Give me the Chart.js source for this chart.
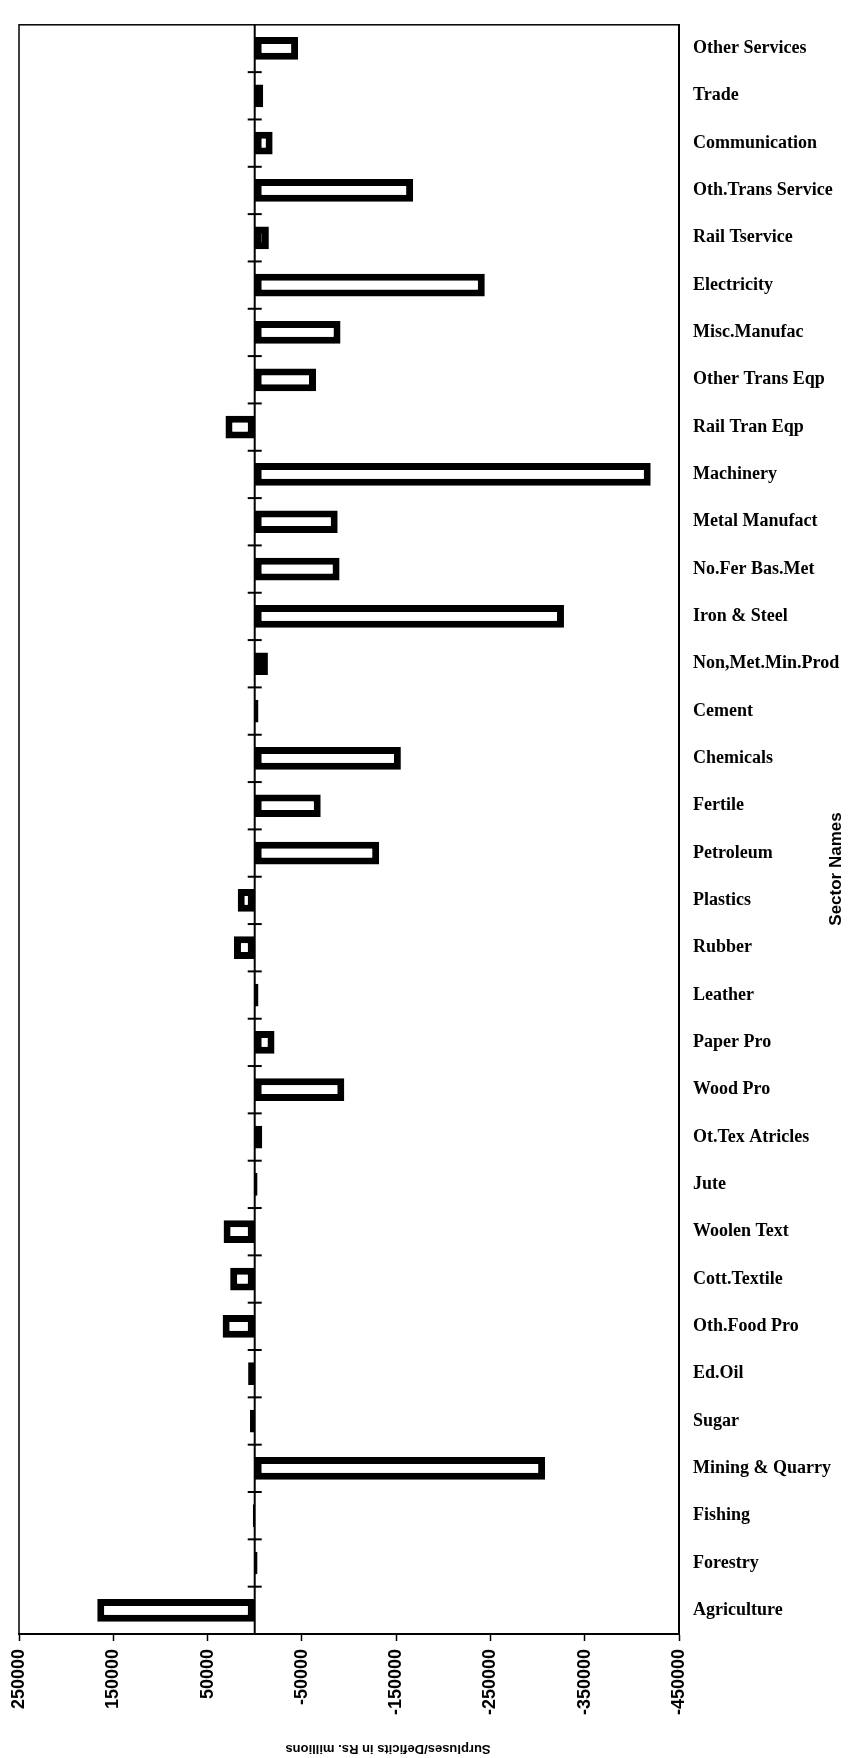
<!DOCTYPE html>
<html>
<head>
<meta charset="utf-8">
<title>Sector Surpluses/Deficits</title>
<script src="https://cdn.jsdelivr.net/npm/chart.js@4.4.1/dist/chart.umd.min.js"></script>
<style>
    html, body { margin: 0; padding: 0; background: #fff; }
    #sectorChart { display: block; }
</style>
</head>
<body>
<canvas id="sectorChart" width="851" height="1758"></canvas>
<script>
// Sector names, top to bottom as in the figure
const sectors = [
    'Other Services', 'Trade', 'Communication', 'Oth.Trans Service', 'Rail Tservice',
    'Electricity', 'Misc.Manufac', 'Other Trans Eqp', 'Rail Tran Eqp', 'Machinery',
    'Metal Manufact', 'No.Fer Bas.Met', 'Iron & Steel', 'Non,Met.Min.Prod', 'Cement',
    'Chemicals', 'Fertile', 'Petroleum', 'Plastics', 'Rubber',
    'Leather', 'Paper Pro', 'Wood Pro', 'Ot.Tex Atricles', 'Jute',
    'Woolen Text', 'Cott.Textile', 'Oth.Food Pro', 'Ed.Oil', 'Sugar',
    'Mining & Quarry', 'Fishing', 'Forestry', 'Agriculture'
];

// Surplus (+) / deficit (-) in Rs. millions
const surplusDeficit = [
    -46000, -9000, -19000, -168000, -15000,
    -244000, -91000, -65000, 31000, -420000,
    -88000, -90000, -328000, -14000, -4000,
    -155000, -70000, -132000, 18000, 22000,
    -4000, -21000, -95000, -8000, -3000,
    33000, 26000, 34000, 7000, 5000,
    -308000, 2000, -3000, 167000
];

// x axis runs from +250000 on the left to -450000 on the right
const xMin = -450000;
const xMax = 250000;
const xStep = 100000;

const xTitle = 'Surpluses/Deficits in Rs. millions';
const yTitle = 'Sector Names';

// frame, zero line with its cross ticks, and the two rotated axis titles
const framePlugin = {
    id: 'frame',
    beforeDraw(chart) {
        const ctx = chart.ctx;
        ctx.save();
        ctx.fillStyle = '#fff';
        ctx.fillRect(0, 0, chart.width, chart.height);
        ctx.restore();
    },
    afterDraw(chart) {
        const { ctx, chartArea: area, scales } = chart;
        const x0 = scales.x.getPixelForValue(0);
        ctx.save();
        ctx.strokeStyle = '#000';

        ctx.lineWidth = 1.5;
        ctx.strokeRect(area.left, area.top, area.right - area.left, area.bottom - area.top);

        ctx.lineWidth = 2;
        ctx.beginPath();
        ctx.moveTo(x0, area.top);
        ctx.lineTo(x0, area.bottom);
        ctx.stroke();

        // short marks on the zero line between sectors
        for (let i = 0; i < sectors.length - 1; i++) {
            const yy = (scales.y.getPixelForValue(i) + scales.y.getPixelForValue(i + 1)) / 2;
            ctx.beginPath();
            ctx.moveTo(x0 - 7, yy);
            ctx.lineTo(x0 + 7, yy);
            ctx.stroke();
        }

        ctx.fillStyle = '#000';
        ctx.textAlign = 'center';
        ctx.textBaseline = 'middle';

        // upside-down x title, as on the scanned page
        ctx.font = 'bold 13px "Liberation Sans"';
        ctx.save();
        ctx.translate(388, 1749);
        ctx.rotate(Math.PI);
        ctx.fillText(xTitle, 0, 0);
        ctx.restore();

        ctx.font = 'bold 17px "Liberation Sans"';
        ctx.save();
        ctx.translate(836, 869);
        ctx.rotate(-Math.PI / 2);
        ctx.fillText(yTitle, 0, 0);
        ctx.restore();

        ctx.restore();
    }
};

const ctx = document.getElementById('sectorChart').getContext('2d');
new Chart(ctx, {
    type: 'bar',
    data: {
        labels: sectors,
        datasets: [{
            data: surplusDeficit,
            backgroundColor: '#fff',
            borderColor: '#000',
            borderWidth: 7,
            borderSkipped: false,
            categoryPercentage: 1,
            barPercentage: 0.48
        }]
    },
    options: {
        indexAxis: 'y',
        responsive: false,
        animation: false,
        events: [],
        layout: {
            padding: { top: 11, left: 19, right: 0, bottom: 0 }
        },
        plugins: {
            legend: { display: false },
            tooltip: { enabled: false }
        },
        scales: {
            x: {
                type: 'linear',
                reverse: true,
                min: xMin,
                max: xMax,
                afterFit: scale => { scale.height = 124; },
                ticks: {
                    stepSize: xStep,
                    autoSkip: false,
                    minRotation: 90,
                    maxRotation: 90,
                    padding: 8,
                    color: '#000',
                    font: { family: 'Liberation Sans', size: 18, weight: 'bold' },
                    callback: value => String(value)
                },
                grid: {
                    drawOnChartArea: false,
                    drawTicks: true,
                    tickLength: 7,
                    tickWidth: 1.5,
                    tickColor: '#000'
                },
                border: { display: true, color: '#000', width: 2 }
            },
            y: {
                position: 'right',
                afterFit: scale => { scale.width = 172; },
                ticks: {
                    autoSkip: false,
                    padding: 14,
                    color: '#000',
                    font: { family: 'Liberation Serif', size: 18, weight: 'bold' }
                },
                grid: {
                    display: false,
                    drawTicks: false
                },
                border: { display: true, color: '#000', width: 2 }
            }
        }
    },
    plugins: [framePlugin]
});
</script>
</body>
</html>
